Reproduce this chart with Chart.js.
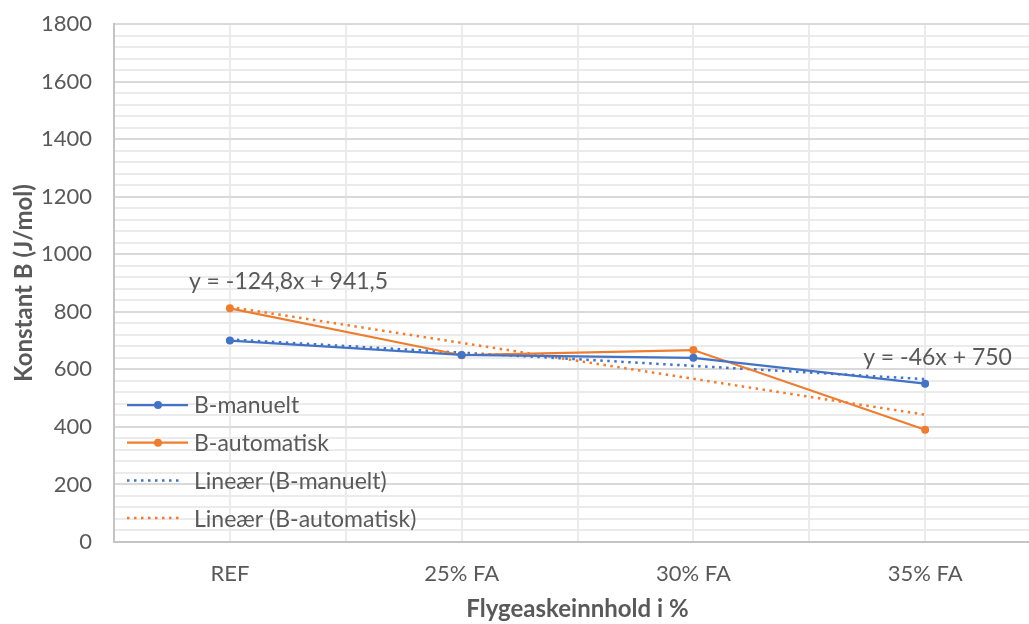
<!DOCTYPE html>
<html>
<head>
<meta charset="utf-8">
<script src="https://cdn.jsdelivr.net/npm/chart.js@4.4.1/dist/chart.umd.min.js"></script>
<style>
  html, body { margin: 0; padding: 0; background: #fff; width: 1029px; height: 624px; overflow: hidden; }
  canvas { display: block; }
</style>
</head>
<body>
<canvas id="chart" width="1060" height="624"></canvas>
<script>
// Mix categories and measured constant B (J/mol)
const categories = ['REF', '25% FA', '30% FA', '35% FA'];
const manueltValues = [700, 650, 640, 550];
const automatiskValues = [812, 649, 667, 390];

// Linear trend lines: [slope, intercept] for x = 1..4
const manueltTrend = [-46, 750];
const automatiskTrend = [-124.8, 941.5];
const trendLabels = ['y = -46x + 750', 'y = -124,8x + 941,5'];

const yMajorTicks = [0, 200, 400, 600, 800, 1000, 1200, 1400, 1600, 1800];
const yMinorStep = 40;

const BLUE = '#4472C4';
const ORANGE = '#ED7D31';
const TEXT = '#595959';
const FONT = 'Lato, "Open Sans", sans-serif';

const toPoints = vals => vals.map((v, i) => ({ x: i, y: v }));
const trendPoints = ([m, b]) => categories.map((_, i) => ({ x: i, y: m * (i + 1) + b }));

// every gridline position on the value axis (major + minor)
const yGridValues = [];
for (let v = yMajorTicks[0]; v <= yMajorTicks[yMajorTicks.length - 1]; v += yMinorStep) yGridValues.push(v);

// Legend and trend equations drawn inside the plot area
const overlayPlugin = {
  id: 'overlay',
  afterDatasetsDraw(chart) {
    const { ctx, chartArea, scales } = chart;
    ctx.save();
    ctx.font = '23px ' + FONT;
    ctx.fillStyle = TEXT;
    ctx.textBaseline = 'middle';
    ctx.textAlign = 'left';

    // trend equations
    ctx.fillText(trendLabels[1], scales.x.getPixelForValue(0) - 41, scales.y.getPixelForValue(905));
    ctx.fillText(trendLabels[0], scales.x.getPixelForValue(3) - 62, scales.y.getPixelForValue(640));

    // legend
    const x0 = chartArea.left + 13;
    const sampleW = 61;
    let y = chartArea.top + 381;
    const rowH = 37.7;
    chart.data.datasets.forEach(ds => {
      ctx.save();
      ctx.strokeStyle = ds.borderColor;
      ctx.lineWidth = ds.borderWidth;
      ctx.setLineDash(ds.borderDash || []);
      ctx.beginPath();
      ctx.moveTo(x0, y);
      ctx.lineTo(x0 + (ds.borderDash ? sampleW - 5 : sampleW), y);
      ctx.stroke();
      if (ds.pointRadius > 0) {
        ctx.setLineDash([]);
        ctx.fillStyle = ds.borderColor;
        ctx.beginPath();
        ctx.arc(x0 + 31, y, ds.pointRadius, 0, Math.PI * 2);
        ctx.fill();
      }
      ctx.restore();
      ctx.fillText(ds.label, x0 + 67, y + 1);
      y += rowH;
    });
    ctx.restore();
  }
};

new Chart(document.getElementById('chart'), {
  type: 'line',
  data: {
    datasets: [
      { label: 'B-manuelt', data: toPoints(manueltValues), borderColor: BLUE, backgroundColor: BLUE,
        borderWidth: 2.25, pointRadius: 4, pointBorderWidth: 0, tension: 0 },
      { label: 'B-automatisk', data: toPoints(automatiskValues), borderColor: ORANGE, backgroundColor: ORANGE,
        borderWidth: 2.25, pointRadius: 4, pointBorderWidth: 0, tension: 0 },
      { label: 'Lineær (B-manuelt)', data: trendPoints(manueltTrend), borderColor: BLUE,
        borderWidth: 2.5, borderDash: [2.5, 4.5], pointRadius: 0, tension: 0 },
      { label: 'Lineær (B-automatisk)', data: trendPoints(automatiskTrend), borderColor: ORANGE,
        borderWidth: 2.5, borderDash: [2.5, 4.5], pointRadius: 0, tension: 0 }
    ]
  },
  options: {
    responsive: false,
    animation: false,
    devicePixelRatio: 1,
    layout: { padding: { left: 0, top: 24, right: 17, bottom: 0 } },
    plugins: { legend: { display: false }, tooltip: { enabled: false } },
    scales: {
      x: {
        type: 'linear',
        min: -0.5, max: 3.5,
        afterFit: s => { s.height = 82; },
        ticks: {
          stepSize: 0.5, autoSkip: false, maxRotation: 0,
          color: TEXT, font: { family: FONT, size: 22 }, padding: 19,
          callback: v => Number.isInteger(v) ? categories[v] : ''
        },
        grid: { color: '#ebebeb', lineWidth: 2, drawTicks: false },
        border: { color: '#c4c4c4', width: 2 },
        title: { display: true, text: 'Flygeaskeinnhold i %', color: TEXT,
                 font: { family: FONT, size: 24, weight: 'bold' }, padding: { top: 0, bottom: 0 } }
      },
      y: {
        min: 0, max: 1800,
        afterFit: s => { s.width = 114; s.paddingTop = 0; s.paddingBottom = 0; },
        afterBuildTicks: s => { s.ticks = yGridValues.map(v => ({ value: v })); },
        ticks: {
          autoSkip: false,
          color: TEXT, font: { family: FONT, size: 22 }, padding: 22,
          callback: v => yMajorTicks.includes(v) ? String(v) : ''
        },
        grid: {
          drawTicks: false, lineWidth: 2,
          color: c => yMajorTicks.includes(c.tick.value) ? '#d9d9d9' : '#ebebeb'
        },
        border: { color: '#c4c4c4', width: 2 },
        title: { display: true, text: 'Konstant B (J/mol)', color: TEXT,
                 font: { family: FONT, size: 24, weight: 'bold' }, padding: { top: 10, bottom: 0 } }
      }
    }
  },
  plugins: [overlayPlugin]
});
</script>
</body>
</html>
